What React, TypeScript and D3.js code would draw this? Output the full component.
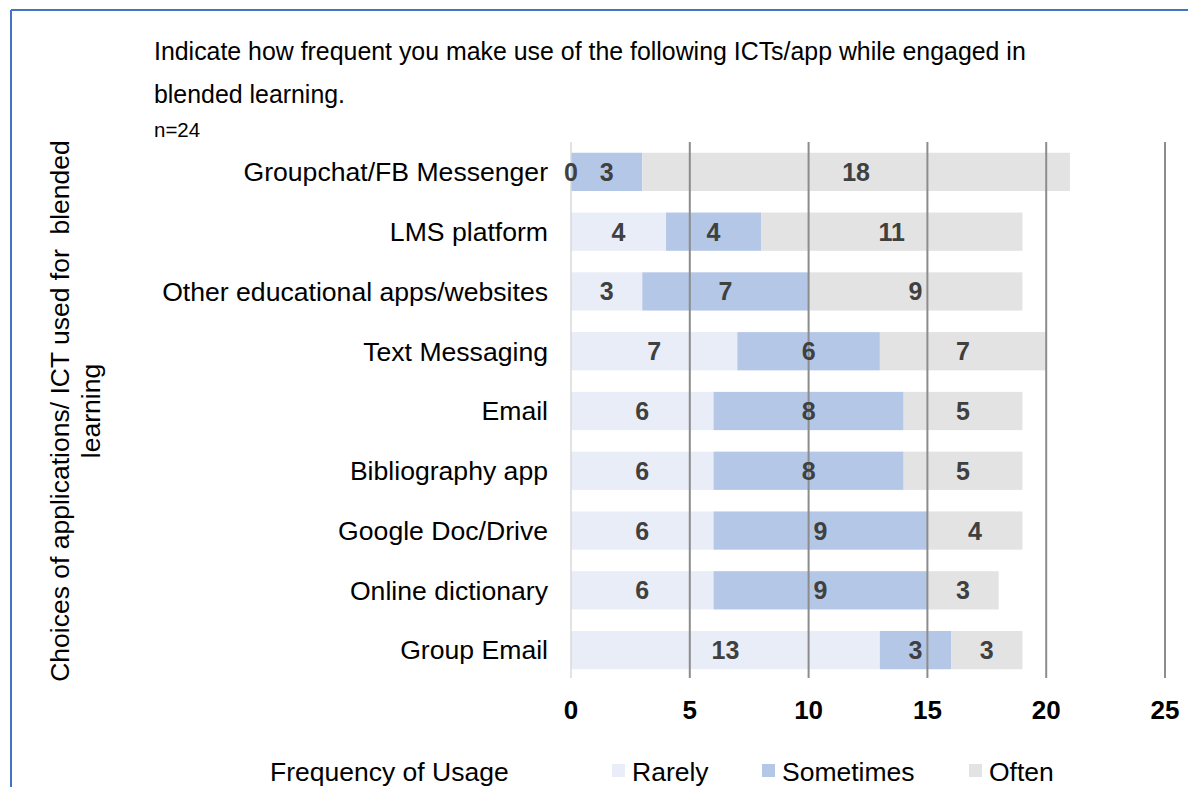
import React from "react";
import * as d3 from "d3";

const categories = [
  "Groupchat/FB Messenger",
  "LMS platform",
  "Other educational apps/websites",
  "Text Messaging",
  "Email",
  "Bibliography app",
  "Google Doc/Drive",
  "Online dictionary",
  "Group Email",
];
const rarely = [0, 4, 3, 7, 6, 6, 6, 6, 13];
const sometimes = [3, 4, 7, 6, 8, 8, 9, 9, 3];
const often = [18, 11, 9, 7, 5, 5, 4, 3, 3];
const seriesNames = ["Rarely", "Sometimes", "Often"];
const seriesColors = ["#E9EDF7", "#B4C7E7", "#E3E3E3"];
const xTicks = [0, 5, 10, 15, 20, 25];

const W = 1188;
const H = 787;
const FONT = "'Liberation Sans', Arial, sans-serif";

export default function App() {
  const x = d3.scaleLinear().domain([0, 25]).range([571, 1165]);
  const y = d3.scaleBand().domain(categories).range([142, 680]).paddingInner(0.36).paddingOuter(0.18);
  const rows = categories.map((c, i) => ({ c, vals: [rarely[i], sometimes[i], often[i]] }));
  const bh = y.bandwidth();

  return (
    <svg width={W} height={H} style={{ position: "absolute", left: 0, top: 0 }} fontFamily={FONT}>
      <rect x={0} y={0} width={W} height={H} fill="#fff" />
      <line x1={11} y1={10} x2={W} y2={10} stroke="#4472C4" strokeWidth={2} />
      <line x1={11} y1={10} x2={11} y2={H} stroke="#4472C4" strokeWidth={2} />

      <text x={154} y={60} fontSize={24.9} fill="#000">
        Indicate how frequent you make use of the following ICTs/app while engaged in
      </text>
      <text x={154} y={103} fontSize={24.9} fill="#000">blended learning.</text>
      <text x={154} y={137} fontSize={20.5} fill="#000">n=24</text>

      <g transform="translate(69,411) rotate(-90)">
        <text x={0} y={0} textAnchor="middle" fontSize={26.5} fill="#000" style={{ whiteSpace: "pre" }}>
          {"Choices of applications/ ICT used for  blended"}
        </text>
        <text x={0} y={31} textAnchor="middle" fontSize={26.5} fill="#000">learning</text>
      </g>

      {rows.map((r) => {
        let acc = 0;
        const y0 = y(r.c)!;
        return (
          <g key={r.c}>
            {r.vals.map((v, k) => {
              const s = acc;
              acc += v;
              return (
                <rect key={k} x={x(s)} y={y0} width={x(s + v) - x(s)} height={bh} fill={seriesColors[k]} />
              );
            })}
            <text x={548} y={y0 + bh / 2} dy="0.35em" textAnchor="end" fontSize={26.6} fill="#000">
              {r.c}
            </text>
          </g>
        );
      })}

      {xTicks.map((t) => (
        <line
          key={t}
          x1={x(t)}
          x2={x(t)}
          y1={142}
          y2={678}
          stroke={t === 0 ? "#D9D9D9" : "#8C8C8C"}
          strokeWidth={t === 0 ? 1.5 : 2}
        />
      ))}

      {rows.map((r) => {
        let acc = 0;
        const y0 = y(r.c)!;
        return r.vals.map((v, k) => {
          const s = acc;
          acc += v;
          return (
            <text
              key={r.c + k}
              x={x(s + v / 2)}
              y={y0 + bh / 2}
              dy="0.36em"
              textAnchor="middle"
              fontSize={25}
              fontWeight="bold"
              fill="#404040"
            >
              {v}
            </text>
          );
        });
      })}

      {xTicks.map((t) => (
        <text key={t} x={x(t)} y={719} textAnchor="middle" fontSize={26} fontWeight="bold" fill="#000">
          {t}
        </text>
      ))}

      <text x={270} y={781} fontSize={26.5} fill="#000">Frequency of Usage</text>
      {seriesNames.map((n, k) => {
        const lx = [612, 762, 969][k];
        return (
          <g key={n}>
            <rect x={lx} y={764} width={13} height={13} fill={seriesColors[k]} />
            <text x={lx + 20} y={781} fontSize={26.5} fill="#000">{n}</text>
          </g>
        );
      })}
    </svg>
  );
}
